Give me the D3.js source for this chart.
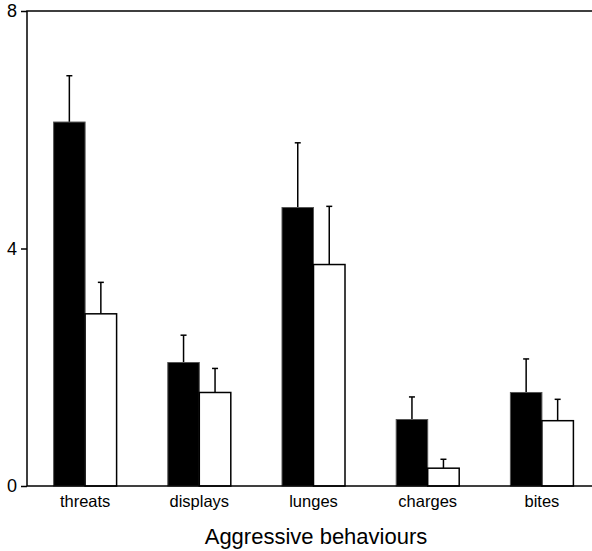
<!DOCTYPE html>
<html lang="en">
<head>
  <meta charset="UTF-8">
  <title>Aggressive behaviours</title>
  <style>
    body { margin: 0; background: #fff; }
    text { font-family: "Liberation Sans", Arial, sans-serif; fill: #000; }
  </style>
</head>
<body>
  <svg></svg>
  <script src="https://cdn.jsdelivr.net/npm/d3@7"></script>
  <script>
    // data
    var behaviours = ["threats", "displays", "lunges", "charges", "bites"];
    var blackMean = [6.13, 2.08, 4.69, 1.12, 1.575];
    var blackErr = [6.91, 2.54, 5.78, 1.50, 2.14];
    var whiteMean = [2.90, 1.575, 3.73, 0.30, 1.10];
    var whiteErr = [3.43, 1.98, 4.71, 0.45, 1.46];
    var yTicks = [0, 4, 8];

    var width = 592, height = 551;
    // plot frame (right side runs past the picture edge)
    var plotLeft = 27, plotTop = 11, plotBottom = 486, plotRight = 599;

    var svg = d3.select("svg")
      .attr("width", width)
      .attr("height", height);

    var x = d3.scaleBand()
      .domain(behaviours)
      .range([plotLeft + 1, plotRight]);
    var y = d3.scaleLinear()
      .domain([0, 8])
      .range([plotBottom, plotTop]);

    var rows = behaviours.map(function (b, i) {
      return [
        { name: b, series: 0, mean: blackMean[i], err: blackErr[i] },
        { name: b, series: 1, mean: whiteMean[i], err: whiteErr[i] }
      ];
    }).flat();

    var barW = 31.5;
    function barX(d) {
      var c = x(d.name) + x.bandwidth() / 2;
      return d.series === 0 ? c - barW : c;
    }

    // error bars (drawn under the bars)
    var eb = svg.append("g").attr("stroke", "#000").attr("stroke-width", 1.5);
    eb.selectAll("line.v")
      .data(rows)
      .join("line")
      .attr("class", "v")
      .attr("x1", d => barX(d) + barW / 2)
      .attr("x2", d => barX(d) + barW / 2)
      .attr("y1", d => y(d.mean))
      .attr("y2", d => y(d.err));
    eb.selectAll("line.cap")
      .data(rows)
      .join("line")
      .attr("class", "cap")
      .attr("x1", d => barX(d) + barW / 2 - 3)
      .attr("x2", d => barX(d) + barW / 2 + 3)
      .attr("y1", d => y(d.err))
      .attr("y2", d => y(d.err));

    svg.append("g")
      .selectAll("rect")
      .data(rows)
      .join("rect")
      .attr("x", barX)
      .attr("y", d => y(d.mean))
      .attr("width", barW)
      .attr("height", d => y(0) - y(d.mean))
      .attr("fill", d => d.series === 0 ? "#000" : "#fff")
      .attr("stroke", d => d.series === 0 ? "#555" : "#000")
      .attr("stroke-width", d => d.series === 0 ? 1 : 1.5);

    // frame
    svg.append("rect")
      .attr("x", plotLeft)
      .attr("y", plotTop)
      .attr("width", plotRight - plotLeft)
      .attr("height", plotBottom - plotTop)
      .attr("fill", "none")
      .attr("stroke", "#000")
      .attr("stroke-width", 1.5);

    // y axis
    var yAxis = svg.append("g")
      .attr("transform", `translate(${plotLeft},0)`)
      .call(d3.axisLeft(y).tickValues(yTicks).tickSize(6).tickPadding(4));
    yAxis.select(".domain").remove();
    yAxis.selectAll("line").attr("stroke-width", 1.5);
    yAxis.selectAll("text").attr("font-size", "18px");

    // x axis labels
    var xAxis = svg.append("g")
      .attr("transform", `translate(0,${plotBottom})`)
      .call(d3.axisBottom(x).tickSize(0).tickPadding(9));
    xAxis.select(".domain").remove();
    xAxis.selectAll("text").attr("font-size", "16.5px");

    svg.append("text")
      .attr("x", 316)
      .attr("y", 544)
      .attr("text-anchor", "middle")
      .attr("font-size", "22px")
      .text("Aggressive behaviours");
  </script>
</body>
</html>
